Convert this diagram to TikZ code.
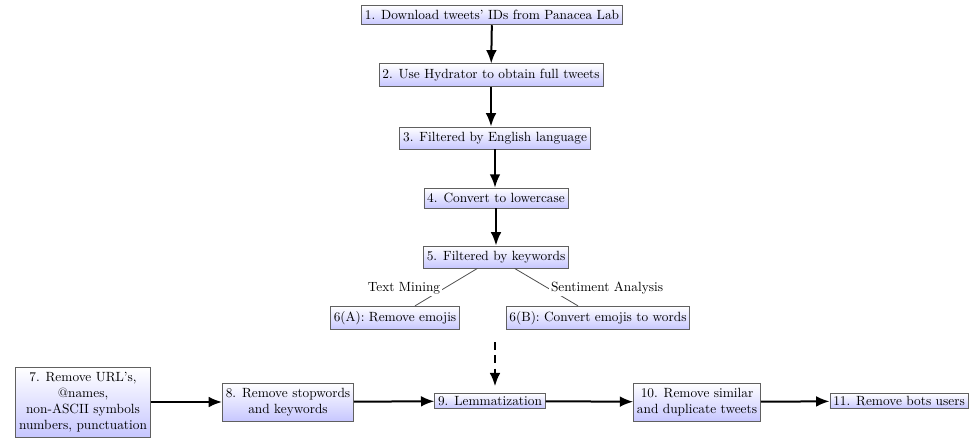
\documentclass[tikz,border=0pt]{standalone}
\usetikzlibrary{arrows.meta}
\begin{document}
\begin{tikzpicture}[x=0.75pt,y=-0.75pt,
  box/.style={draw=gray!75!black, line width=0.6pt, top color=white, bottom color=blue!22, inner xsep=2.5pt, inner ysep=3.8pt, align=center},
  slim/.style={inner ysep=2.2pt},
  arr/.style={line width=1.5pt, -{Latex[length=10pt,width=8pt]}},
  twig/.style={draw=gray!60!black, line width=0.6pt},
  lab/.style={fill=white, inner sep=1.5pt}]
\useasboundingbox (0,0) rectangle (980,437);
\node[box] (n1) at (492,15) {1. Download tweets' IDs from Panacea Lab};
\node[box] (n2) at (491,75) {2. Use Hydrator to obtain full tweets};
\node[box] (n3) at (495,138) {3. Filtered by English language};
\node[box] (n4) at (496,198) {4. Convert to lowercase};
\node[box] (n5) at (496,257) {5. Filtered by keywords};
\node[box] (n6a) at (395,318) {6(A): Remove emojis};
\node[box] (n6b) at (598,318) {6(B): Convert emojis to words};
\node[box] (n7) at (83,402) {7. Remove URL's,\\@names,\\non-ASCII symbols\\numbers, punctuation};
\node[box] (n8) at (288,402) {8. Remove stopwords\\and keywords};
\node[box, slim] (n9) at (490,401) {9. Lemmatization};
\node[box] (n10) at (697,402) {10. Remove similar\\and duplicate tweets};
\node[box, slim] (n11) at (899,401) {11. Remove bots users};
\coordinate (d) at (495,342);

\draw[arr] (n1) -- (n2);
\draw[arr] (n2) -- (n3.north -| n2);
\draw[arr] (n3) -- (n4.north -| n3);
\draw[arr] (n4) -- (n5);
\draw[twig] ([xshift=-14pt]n5.south) -- ([xshift=15pt]n6a.north);
\draw[twig] ([xshift=14pt]n5.south) -- ([xshift=-15pt]n6b.north);
\node[lab] (tm) at (404,288) {Text Mining};
\node[lab] (sa) at (607,288) {Sentiment Analysis};
\draw[arr, dashed, dash pattern=on 6pt off 4pt, shorten >=5pt] (d) -- (n9.north -| d);
\draw[arr] (n7) -- (n8);
\draw[arr] (n8) -- (n9);
\draw[arr] (n9) -- (n10);
\draw[arr] (n10) -- (n11);
\end{tikzpicture}
\end{document}
